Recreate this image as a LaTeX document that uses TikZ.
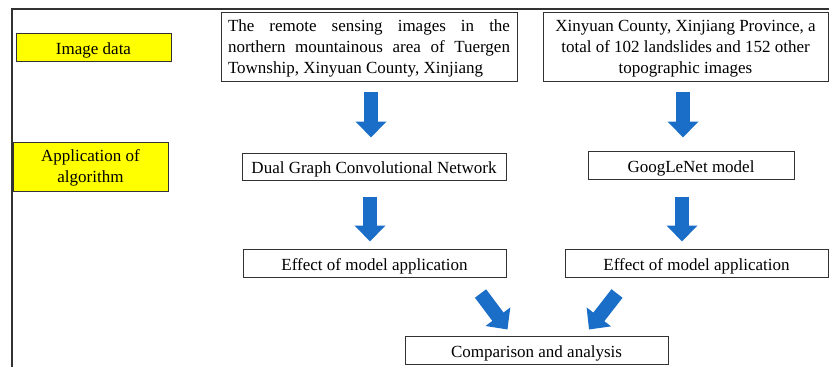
\documentclass[tikz,border=0pt]{standalone}
\usepackage{fontspec}
\setmainfont{Liberation Serif}
\usetikzlibrary{arrows.meta,calc}
\definecolor{arrowblue}{RGB}{26,110,200}
\definecolor{frameline}{RGB}{50,50,50}
\definecolor{labelyellow}{RGB}{255,255,0}
\tikzset{
  box/.style={draw=frameline,line width=1pt,fill=white,inner sep=0pt,
    font=\fontsize{17pt}{21pt}\selectfont,text height=14pt,text depth=0pt},
  multi/.style={box,align=center,text height=,text depth=-3pt},
  ylabel/.style={fill=labelyellow},
  blk/.style={draw=arrowblue,line width=14pt,-{Triangle[width=30pt,length=16pt]}},
}
\begin{document}
\begin{tikzpicture}[x=1pt,y=-1pt]
\useasboundingbox (0,0) rectangle (829,367);
\draw[frameline,line width=2pt] (12,367) -- (12,9) -- (829,9);

\node[box,ylabel,minimum width=155pt,minimum height=28pt] (yd) at (93.5,47) {Image data};
\node[multi,ylabel,minimum width=155pt,minimum height=49pt] (ya) at (90.5,166.5) {Application of\\algorithm};

\node[multi,minimum width=296pt,minimum height=69pt] (b1) at (369,46.5)
  {\makebox[282pt][s]{The remote sensing images in the}\\
   \makebox[282pt][s]{northern mountainous area of Tuergen}\\
   \makebox[282pt][l]{Township, Xinyuan County, Xinjiang}};
\node[multi,minimum width=285pt,minimum height=69pt] (b2) at (685.5,46.5)
  {Xinyuan County, Xinjiang Province, a\\total of 102 landslides and 152 other\\topographic images};

\node[box,minimum width=264pt,minimum height=27pt] (dg) at (374,166.5) {Dual Graph Convolutional Network};
\node[box,minimum width=206pt,minimum height=28pt] (gl) at (691,165) {GoogLeNet model};

\node[box,minimum width=263pt,minimum height=28pt] (e1) at (374.5,263) {Effect of model application};
\node[box,minimum width=263pt,minimum height=28pt] (e2) at (696.5,263) {Effect of model application};

\node[box,minimum width=263pt,minimum height=28pt] (ca) at (536.5,350) {Comparison and analysis};

\coordinate (a1s) at ($(b1.south)+(2,10)$);
\coordinate (a1e) at ($(b1.south)+(2,56)$);
\draw[blk] (a1s) -- (a1e);
\coordinate (a2s) at ($(b2.south)+(-2.5,10)$);
\coordinate (a2e) at ($(b2.south)+(-2.5,56)$);
\draw[blk] (a2s) -- (a2e);
\coordinate (a3s) at ($(dg.south)+(-4,16)$);
\coordinate (a3e) at ($(e1.north)+(-4.5,-7)$);
\draw[blk] (a3s) -- (a3e);
\coordinate (a4s) at ($(gl.south)+(-9,17)$);
\coordinate (a4e) at ($(e2.north)+(-14.5,-7)$);
\draw[blk] (a4s) -- (a4e);

\coordinate (d1s) at ($(e1.south)+(106,16)$);
\coordinate (d1e) at ($(ca.north)+(-29,-6)$);
\draw[blk] (d1s) -- (d1e);
\coordinate (d2s) at ($(e2.south)+(-79.5,16)$);
\coordinate (d2e) at ($(ca.north)+(52.5,-6)$);
\draw[blk] (d2s) -- (d2e);
\end{tikzpicture}
\end{document}
